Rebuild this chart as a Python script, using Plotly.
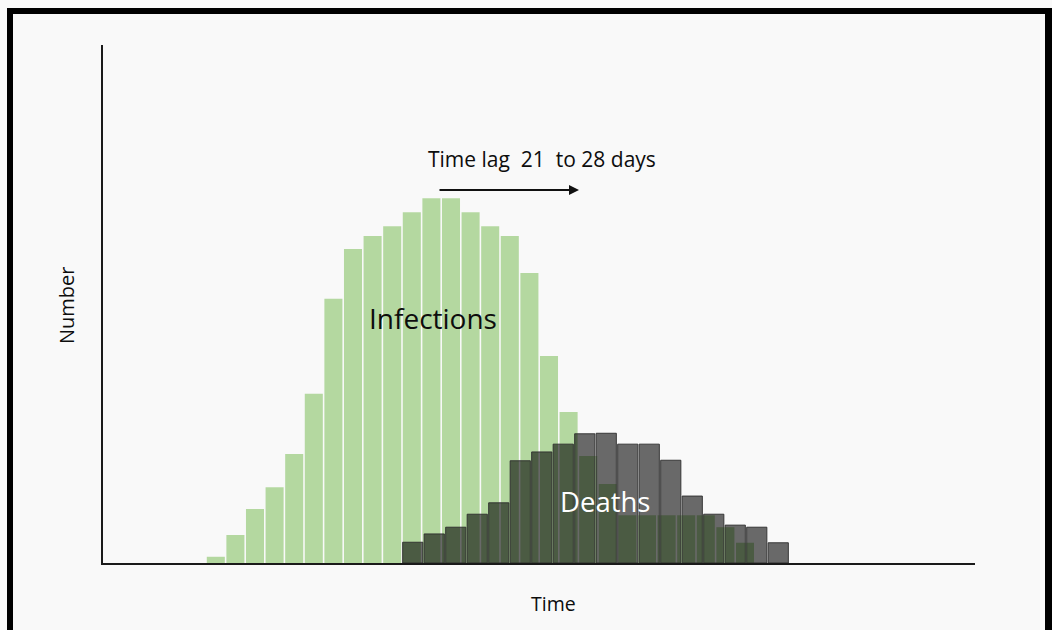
import plotly.graph_objects as go

# ---- data (arbitrary "number" units) ----
infections = [1.2, 5.4, 10.4, 14.6, 21.0, 32.6, 50.9, 60.5, 63.0, 64.9,
              67.6, 70.3, 70.3, 67.6, 64.9, 63.0, 55.9, 39.9, 29.1, 20.6,
              15.2, 9.2, 9.2, 9.2, 9.2, 9.2, 6.9, 3.9]
deaths = [4.0, 5.6, 6.9, 9.4, 11.6, 19.7, 21.4, 22.9, 24.9, 25.0,
          22.9, 22.9, 19.8, 12.9, 9.4, 7.3, 6.9, 3.9]
infection_days = list(range(len(infections)))
death_days = list(range(len(deaths)))

label_infections = "Infections"
label_deaths = "Deaths"
label_lag = "Time lag&nbsp; 21&nbsp; to 28 days"
x_title = "Time"
y_title = "Number"

# ---- layout geometry (pixels of the 1052x630 page) ----
W, H = 1052, 630
L, R, T, B = 103, 975, 45, 563


def px(x):
    return (x - L) / (R - L)


def py(y):
    return (B - y) / (B - T)


FONT = "Open Sans, Lato, DejaVu Sans, sans-serif"

fig = go.Figure()
fig.add_bar(
    x=infection_days, y=infections, width=0.92,
    marker=dict(color="#b4d8a0", line=dict(width=0)),
    xaxis="x", yaxis="y", name=label_infections, hoverinfo="skip",
)
fig.add_bar(
    x=death_days, y=deaths, width=0.94,
    marker=dict(color="rgba(0,0,0,0.58)",
                line=dict(color="rgba(45,45,45,0.9)", width=1)),
    xaxis="x2", yaxis="y", name=label_deaths, hoverinfo="skip",
)

# infections bars: pitch 19.6 px, first bar starts at 206 px
p1, c1 = 19.6, 206 + 19.6 / 2
# deaths bars: pitch 21.5 px, first bar starts at 402 px
p2, c2 = 21.5, 402 + 21.5 / 2

axis_common = dict(showgrid=False, zeroline=False, showticklabels=False,
                   ticks="", fixedrange=True)


def label(text, x, y, size, color="#0d0d0d", angle=0):
    return dict(text=text, x=px(x), y=py(y), xref="paper", yref="paper",
                xanchor="center", yanchor="middle", showarrow=False,
                textangle=angle, font=dict(family=FONT, size=size, color=color))


annotations = [
    label(label_infections, 433, 318, 28),
    label(label_deaths, 605, 501, 27.5, color="#ffffff"),
    label(label_lag, 542, 159, 21),
    dict(text="", x=px(579), y=py(190), ax=-141, ay=0, xref="paper", yref="paper",
         showarrow=True, arrowhead=2, arrowsize=1, arrowwidth=2, arrowcolor="#111111"),
    label(x_title, 553, 603, 19.5),
    label(y_title, 66, 306, 20, angle=-90),
]

shapes = [
    # black frame around the picture (top, left, right)
    dict(type="rect", xref="paper", yref="paper", x0=px(7), x1=px(1052),
         y0=py(14), y1=py(8), fillcolor="#000000", line=dict(width=0), layer="above"),
    dict(type="rect", xref="paper", yref="paper", x0=px(7), x1=px(13),
         y0=py(640), y1=py(8), fillcolor="#000000", line=dict(width=0), layer="above"),
    dict(type="rect", xref="paper", yref="paper", x0=px(1045), x1=px(1052),
         y0=py(640), y1=py(8), fillcolor="#000000", line=dict(width=0), layer="above"),
]

fig.update_layout(
    width=W, height=H, autosize=False,
    margin=dict(l=L, r=W - R, t=T, b=H - B, pad=0),
    paper_bgcolor="#f9f9f9", plot_bgcolor="#f9f9f9",
    showlegend=False, barmode="overlay",
    xaxis=dict(range=[(L - c1) / p1, (R - c1) / p1], showline=True,
               linecolor="#1a1a1a", linewidth=2, **axis_common),
    xaxis2=dict(range=[(L - c2) / p2, (R - c2) / p2], overlaying="x",
                visible=False, **axis_common),
    yaxis=dict(range=[0, (B - T) / 5.19], showline=True, linecolor="#1a1a1a",
               linewidth=2, **axis_common),
    annotations=annotations, shapes=shapes,
)

fig.write_html("out.html", config={"displayModeBar": False, "staticPlot": True},
               post_script="document.body.style.margin='0';document.body.style.overflow='hidden';")
